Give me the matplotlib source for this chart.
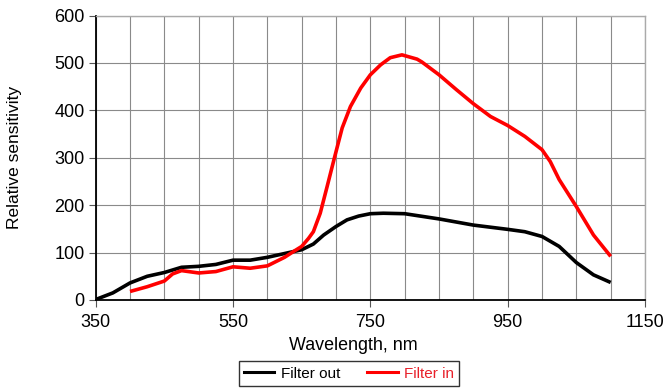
import matplotlib
matplotlib.use("Agg")
import matplotlib.pyplot as plt
from matplotlib.lines import Line2D

plt.rcParams['font.family'] = ['Liberation Sans', 'DejaVu Sans']

# Filter out (black)
wl_out = [350, 375, 400, 425, 450, 475, 500, 525, 550, 575, 600, 625, 650, 667, 682,
          700, 716, 733, 750, 769, 800, 850, 900, 950, 975, 1000, 1025, 1050, 1075, 1100]
sens_out = [1, 15, 36, 50, 58, 69, 71, 75, 84, 84, 90, 98, 106, 118, 137,
            155, 169, 177, 182, 183, 182, 171, 158, 149, 144, 134, 113, 79, 53, 37]

# Filter in (red)
wl_in = [400, 425, 450, 462, 475, 500, 525, 550, 575, 600, 625, 640, 650, 660, 667,
         677, 687, 697, 709, 721, 736, 750, 765, 779, 796, 818, 825, 850, 875, 900,
         925, 950, 975, 1000, 1012, 1025, 1050, 1075, 1100]
sens_in = [18, 28, 40, 55, 62, 57, 60, 70, 67, 72, 90, 104, 113, 130, 144,
           183, 239, 296, 363, 408, 447, 475, 496, 511, 517, 508, 502, 475, 444, 414,
           387, 368, 345, 317, 292, 254, 197, 137, 92]

x_ticks = [350, 550, 750, 950, 1150]
y_ticks = [0, 100, 200, 300, 400, 500, 600]
series_labels = ["Filter out", "Filter in"]
series_colors = ["#000000", "#ff0000"]

fig = plt.figure(figsize=(6.64, 3.90), dpi=100)
ax = fig.add_axes([95.7/664, 1-300/390, (645-95.7)/664, (300-15.5)/390])

ax.set_xlim(350, 1150)
ax.set_ylim(0, 600)
for x in range(350, 1151, 50):
    ax.axvline(x, color='#8a8a8a', lw=0.8, zorder=1)
for y in y_ticks:
    ax.axhline(y, color='#8a8a8a', lw=0.8, zorder=1)

ax.plot(wl_out, sens_out, color=series_colors[0], lw=2.6, zorder=3,
        solid_joinstyle='round', solid_capstyle='butt')
ax.plot(wl_in, sens_in, color=series_colors[1], lw=2.6, zorder=3,
        solid_joinstyle='round', solid_capstyle='butt')

ax.set_xticks(x_ticks)
ax.set_yticks(y_ticks)
ax.tick_params(axis='both', direction='out', length=5, width=0.8, color='#555555',
               labelsize=13, pad=3)
ax.tick_params(axis='x', pad=5)

for s in ['left', 'bottom']:
    ax.spines[s].set_color('black')
    ax.spines[s].set_linewidth(1.3)
for s in ['top', 'right']:
    ax.spines[s].set_color('#aaaaaa')
    ax.spines[s].set_linewidth(1.0)

fig.text(353/664, 1-345/390, "Wavelength, nm", ha='center', va='center', fontsize=12.9)
fig.text(15/664, 1-157/390, "Relative sensitivity", ha='center', va='center',
         rotation=90, fontsize=12.5)

handles = [Line2D([0], [0], color=c, lw=2.2) for c in series_colors]
leg = fig.legend(handles, series_labels, loc='center',
                 bbox_to_anchor=(349/664, 1-373.5/390), ncol=2, frameon=True,
                 fancybox=False, fontsize=11, handlelength=2.0, handletextpad=0.4,
                 columnspacing=1.8, borderpad=0.35)
leg.get_frame().set_edgecolor('black')
leg.get_frame().set_linewidth(1.0)
leg.get_texts()[1].set_color('#e8202a')

fig.savefig("out.png", dpi=100)
